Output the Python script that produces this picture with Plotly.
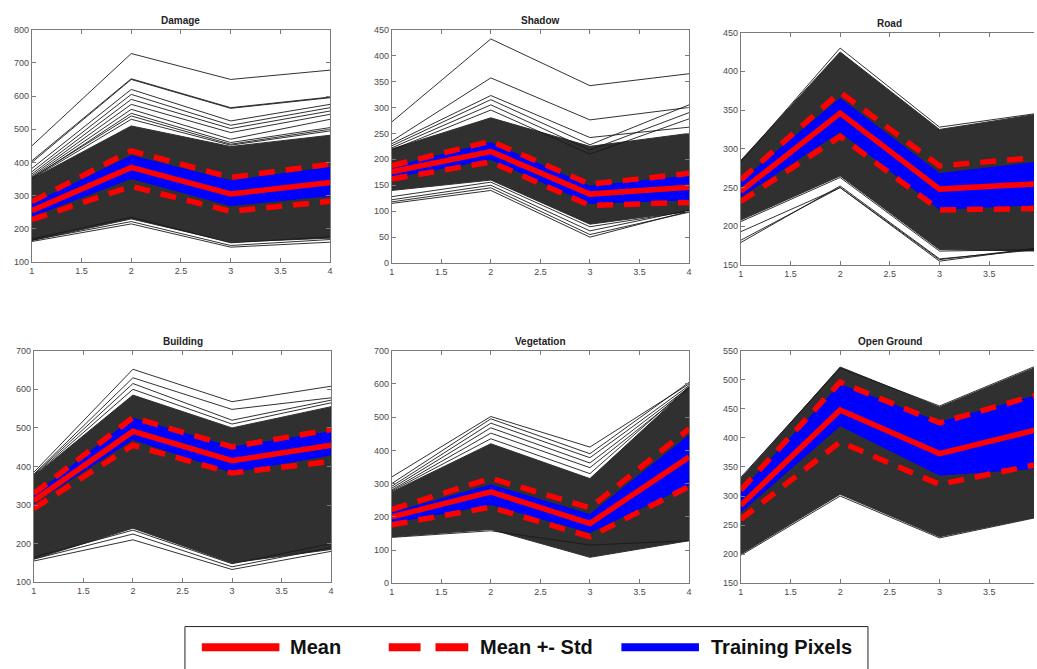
import plotly.graph_objects as go

W, H = 1037, 669

band_x = [1, 2, 3, 4]
class_names = ["Damage", "Shadow", "Road", "Building", "Vegetation", "Open Ground"]

# ---- Damage ----
damage_mean = [255, 385, 305, 340]
damage_std_hi = [282, 435, 355, 395]
damage_std_lo = [228, 328, 253, 283]
damage_train_hi = [275, 420, 345, 385]
damage_train_lo = [238, 352, 270, 300]
damage_all_hi = [350, 510, 448, 482]
damage_all_lo = [165, 230, 160, 172]
damage_outliers = [
    [450, 728, 650, 678], [405, 652, 565, 597], [400, 650, 563, 595],
    [382, 620, 525, 575], [372, 605, 512, 565], [365, 590, 502, 555],
    [360, 575, 490, 545], [356, 560, 470, 530], [352, 548, 460, 505],
    [354, 540, 455, 500], [351, 530, 452, 495],
    [162, 215, 145, 160], [166, 222, 150, 168], [170, 235, 158, 176],
]

# ---- Shadow ----
shadow_mean = [176, 215, 133, 146]
shadow_std_hi = [188, 235, 152, 173]
shadow_std_lo = [162, 195, 111, 117]
shadow_train_hi = [185, 232, 148, 168]
shadow_train_lo = [165, 200, 115, 122]
shadow_all_hi = [220, 280, 225, 250]
shadow_all_lo = [140, 160, 75, 100]
shadow_outliers = [
    [272, 432, 342, 365], [235, 357, 276, 300], [230, 323, 242, 262],
    [226, 315, 228, 305], [222, 305, 218, 290], [218, 295, 210, 278],
    [115, 140, 50, 100], [118, 145, 55, 98], [122, 150, 62, 102],
    [128, 156, 70, 100],
]

# ---- Road ----
road_mean = [245, 346, 248, 255]
road_std_hi = [260, 373, 278, 289]
road_std_lo = [232, 316, 221, 223]
road_train_hi = [258, 365, 268, 283]
road_train_lo = [238, 322, 222, 228]
road_all_hi = [285, 425, 325, 345]
road_all_lo = [208, 265, 170, 168]
road_outliers = [
    [283, 430, 328, 346], [193, 250, 157, 172], [182, 250, 155, 172],
    [179, 252, 158, 170], [206, 263, 168, 170],
]

# ---- Building ----
building_mean = [311, 491, 415, 455]
building_std_hi = [330, 527, 451, 496]
building_std_lo = [291, 455, 383, 413]
building_train_hi = [325, 525, 450, 490]
building_train_lo = [305, 470, 385, 430]
building_all_hi = [375, 585, 500, 555]
building_all_lo = [160, 240, 150, 185]
building_outliers = [
    [385, 652, 568, 608], [380, 630, 548, 578], [378, 615, 520, 572],
    [376, 600, 510, 565], [155, 210, 133, 180], [160, 225, 140, 190],
    [165, 235, 148, 200],
]

# ---- Vegetation ----
vegetation_mean = [200, 275, 180, 380]
vegetation_std_hi = [222, 316, 227, 465]
vegetation_std_lo = [176, 229, 140, 291]
vegetation_train_hi = [212, 296, 207, 445]
vegetation_train_lo = [182, 237, 153, 296]
vegetation_all_hi = [275, 420, 315, 590]
vegetation_all_lo = [140, 162, 78, 128]
vegetation_outliers = [
    [320, 502, 410, 600], [300, 495, 390, 605], [292, 482, 378, 595],
    [286, 468, 362, 590], [281, 452, 348, 585], [278, 435, 330, 592],
    [138, 158, 115, 128],
]

# ---- Open Ground ----
openground_mean = [284, 448, 373, 415]
openground_std_hi = [310, 496, 426, 475]
openground_std_lo = [260, 393, 320, 355]
openground_train_hi = [308, 492, 427, 474]
openground_train_lo = [272, 421, 336, 348]
openground_all_hi = [330, 522, 453, 524]
openground_all_lo = [200, 303, 230, 265]
openground_outliers = [
    [332, 520, 455, 526], [198, 300, 228, 264],
]

# axis ticks
x_ticks = [1, 1.5, 2, 2.5, 3, 3.5, 4]
x_ticklabels = ["1", "1.5", "2", "2.5", "3", "3.5", "4"]
y_ranges = [[100, 800], [0, 450], [150, 450], [100, 700], [0, 700], [150, 550]]
y_dticks = [100, 50, 50, 100, 100, 50]
x_ranges = [[1, 4], [1, 4], [1, 3.95], [1, 4], [1, 4], [1, 3.95]]

data_sets = [
    (damage_mean, damage_std_hi, damage_std_lo, damage_train_hi, damage_train_lo, damage_all_hi, damage_all_lo, damage_outliers),
    (shadow_mean, shadow_std_hi, shadow_std_lo, shadow_train_hi, shadow_train_lo, shadow_all_hi, shadow_all_lo, shadow_outliers),
    (road_mean, road_std_hi, road_std_lo, road_train_hi, road_train_lo, road_all_hi, road_all_lo, road_outliers),
    (building_mean, building_std_hi, building_std_lo, building_train_hi, building_train_lo, building_all_hi, building_all_lo, building_outliers),
    (vegetation_mean, vegetation_std_hi, vegetation_std_lo, vegetation_train_hi, vegetation_train_lo, vegetation_all_hi, vegetation_all_lo, vegetation_outliers),
    (openground_mean, openground_std_hi, openground_std_lo, openground_train_hi, openground_train_lo, openground_all_hi, openground_all_lo, openground_outliers),
]

# pixel boxes (left, right, top, bottom)
boxes = [
    (29, 329, 25, 261), (391, 690, 25, 262), (742, 1037, 28, 264),
    (31, 330, 351, 586), (391, 690, 351, 587), (742, 1037, 351, 587),
]

DARK = "#303030"
fig = go.Figure()
layout = dict(width=W, height=H, margin=dict(l=0, r=0, t=0, b=0),
              paper_bgcolor="white", plot_bgcolor="white", showlegend=False)
annotations = []
shapes = []

for i, (name, ds, box) in enumerate(zip(class_names, data_sets, boxes)):
    mean, shi, slo, thi, tlo, ahi, alo, outs = ds
    k = "" if i == 0 else str(i + 1)
    xa, ya = "x" + k, "y" + k
    # dense cloud of all pixels
    fig.add_trace(go.Scatter(x=band_x + band_x[::-1], y=ahi + alo[::-1], fill="toself",
                             fillcolor=DARK, line=dict(color=DARK, width=1), mode="lines",
                             xaxis=xa, yaxis=ya, hoverinfo="skip"))
    # individual outlying pixel profiles
    ox, oy = [], []
    for o in outs:
        ox += band_x + [None]
        oy += o + [None]
    fig.add_trace(go.Scatter(x=ox, y=oy, mode="lines", line=dict(color="#1a1a1a", width=0.9),
                             xaxis=xa, yaxis=ya, hoverinfo="skip"))
    # training pixels band
    fig.add_trace(go.Scatter(x=band_x + band_x[::-1], y=thi + tlo[::-1], fill="toself",
                             fillcolor="#0000ff", line=dict(color="#0000ff", width=1), mode="lines",
                             xaxis=xa, yaxis=ya, hoverinfo="skip"))
    # mean +- std
    for s in (shi, slo):
        fig.add_trace(go.Scatter(x=band_x, y=s, mode="lines",
                                 line=dict(color="#ff0000", width=5.5, dash="16px,11px"),
                                 xaxis=xa, yaxis=ya, hoverinfo="skip"))
    fig.add_trace(go.Scatter(x=band_x, y=mean, mode="lines",
                             line=dict(color="#ff0000", width=5.5),
                             xaxis=xa, yaxis=ya, hoverinfo="skip"))

    l, r, t, b = box
    clipped = x_ranges[i][1] < 4
    axis_common = dict(showgrid=False, zeroline=False, showline=True, linecolor="#7a7a7a",
                       linewidth=1, ticks="inside", ticklen=4, tickcolor="#7a7a7a",
                       tickfont=dict(family="Arial, Liberation Sans", size=9, color="#4a4a4a"))
    layout["xaxis" + k] = dict(domain=[l / W, r / W], anchor=ya, range=x_ranges[i],
                               tickvals=x_ticks, ticktext=x_ticklabels, mirror="ticks", **axis_common)
    layout["yaxis" + k] = dict(domain=[1 - b / H, 1 - t / H], anchor=xa, range=y_ranges[i],
                               dtick=y_dticks[i], tick0=0, mirror=False if clipped else "ticks",
                               **axis_common)
    cx = (l + (l + 300)) / 2 if not clipped else (l + 150)
    annotations.append(dict(text="<b>" + name + "</b>", x=cx / W, y=1 - (t - 2) / H,
                            xref="paper", yref="paper", xanchor="center", yanchor="bottom",
                            showarrow=False, font=dict(family="Arial, Liberation Sans", size=10, color="#222")))

# ---- legend box (drawn) ----
def px(xp):
    return xp / W

def py(yp):
    return 1 - yp / H

shapes.append(dict(type="rect", xref="paper", yref="paper", x0=px(183), x1=px(870), y0=py(690), y1=py(631),
                   line=dict(color="#222", width=1), fillcolor="white", layer="above"))
ly = 652
leg_items = [
    ("Mean", [(200, 278)], 287),
    ("Mean +- Std", [(388, 420), (435, 468)], 478),
    ("Training Pixels", [(622, 700)], 710),
]
leg_colors = ["#ff0000", "#ff0000", "#0000ff"]
for (label, segs, tx), col in zip(leg_items, leg_colors):
    for a, bb in segs:
        shapes.append(dict(type="rect", xref="paper", yref="paper", x0=px(a), x1=px(bb),
                           y0=py(ly + 4), y1=py(ly - 4), line=dict(width=0), fillcolor=col, layer="above"))
    annotations.append(dict(text="<b>" + label + "</b>", x=px(tx), y=py(ly), xref="paper", yref="paper",
                            xanchor="left", yanchor="middle", showarrow=False,
                            font=dict(family="Arial, Liberation Sans", size=20, color="#111")))

layout["annotations"] = annotations
layout["shapes"] = shapes
fig.update_layout(**layout)
fig.write_html("out.html")
